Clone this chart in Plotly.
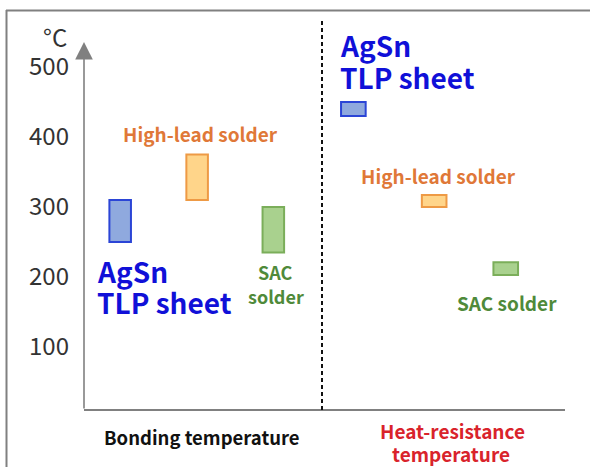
import plotly.graph_objects as go

# ---- data ----
materials = ["AgSn TLP sheet", "High-lead solder", "SAC solder"]
bond_low = [250, 310, 235]
bond_high = [310, 375, 300]
heat_low = [430, 300, 203]
heat_high = [450, 317, 221]
bond_pos = [0.47, 1.47, 2.46]
heat_pos = [3.5, 4.55, 5.48]
y_ticks = [100, 200, 300, 400, 500]
section_labels = ["Bonding temperature", "Heat-resistance", "temperature"]

fills = ["#8FA9DE", "#FFD58A", "#A9D18E"]
edges = ["#2B45D6", "#EE9A45", "#7BAE5A"]
text_cols = ["#1010D8", "#E07838", "#4F8A3A"]

FONT = "Noto Sans CJK JP"
W, H = 590, 467
L, R, T, B = 84, 565, 42, 410  # plot area in pixels


def px(xp):
    return (xp - L) / (R - L)


def py(yp):
    return (B - yp) / (B - T)


fig = go.Figure()
for i, m in enumerate(materials):
    fig.add_trace(go.Bar(
        x=[bond_pos[i], heat_pos[i]],
        y=[bond_high[i] - bond_low[i], heat_high[i] - heat_low[i]],
        base=[bond_low[i], heat_low[i]],
        width=[0.28, 0.32],
        marker=dict(color=fills[i], line=dict(color=edges[i], width=2)),
        name=m, showlegend=False, hoverinfo="skip",
    ))

ann = []


def label(text, xp, yp, size, color, xanchor="center", yanchor="middle", bold=True):
    ann.append(dict(
        text=f"<b>{text}</b>" if bold else text,
        x=px(xp), y=py(yp), xref="paper", yref="paper",
        xanchor=xanchor, yanchor=yanchor, showarrow=False,
        font=dict(family=FONT, size=size, color=color),
    ))


# series labels (bonding side)
label("High-lead solder", 200, 133, 19, text_cols[1])
label("AgSn", 95, 271, 28, text_cols[0], xanchor="left")
label("TLP sheet", 95, 302, 28, text_cols[0], xanchor="left")
label("SAC", 275, 272, 18, text_cols[2])
label("solder", 276, 296, 18, text_cols[2])
# series labels (heat-resistance side)
label("AgSn", 338, 45, 28, text_cols[0], xanchor="left")
label("TLP sheet", 338, 77, 28, text_cols[0], xanchor="left")
label("High-lead solder", 438, 175, 19, text_cols[1])
label("SAC solder", 507, 302, 19, text_cols[2])
# section labels
label(section_labels[0], 202, 437, 18.5, "#111111")
label(section_labels[1], 452, 430, 19, "#D9232B")
label(section_labels[2], 451, 453, 19, "#D9232B")
# unit
label("°C", 55, 36, 24, "#333333", bold=False)

# y axis arrow
ann.append(dict(
    x=px(L), y=py(T), xref="paper", yref="paper", ax=0, ay=B - T,
    axref="pixel", ayref="pixel", text="", showarrow=True,
    arrowhead=2, arrowsize=2.2, arrowwidth=1.6, arrowcolor="#808080", standoff=0,
))

shapes = [
    # x axis line
    dict(type="line", xref="paper", yref="paper", x0=0, x1=1, y0=0, y1=0,
         line=dict(color="#808080", width=2)),
    # dashed divider
    dict(type="line", xref="paper", yref="paper", x0=px(322), x1=px(322), y0=0, y1=py(18),
         line=dict(color="#111111", width=2, dash="4px,3px")),
    # outer frame (top & left)
    dict(type="line", xref="paper", yref="paper", x0=px(6), x1=px(W), y0=py(10.5), y1=py(10.5),
         line=dict(color="#808080", width=2)),
    dict(type="line", xref="paper", yref="paper", x0=px(6.5), x1=px(6.5), y0=py(10), y1=py(H),
         line=dict(color="#808080", width=2)),
]

fig.update_layout(
    width=W, height=H,
    margin=dict(l=L, r=W - R, t=T, b=H - B),
    paper_bgcolor="white", plot_bgcolor="white",
    barmode="overlay",
    xaxis=dict(range=[0, 6.25], showgrid=False, zeroline=False, showticklabels=False,
               showline=False, fixedrange=True),
    yaxis=dict(range=[10, 535.7], showgrid=False, zeroline=False, tickvals=y_ticks,
               ticktext=[str(v) for v in y_ticks], ticks="", showline=False,
               ticklabelstandoff=14,
               tickfont=dict(family=FONT, size=24, color="#333333")),
    annotations=ann, shapes=shapes,
    font=dict(family=FONT),
)

fig.write_html("out.html")
